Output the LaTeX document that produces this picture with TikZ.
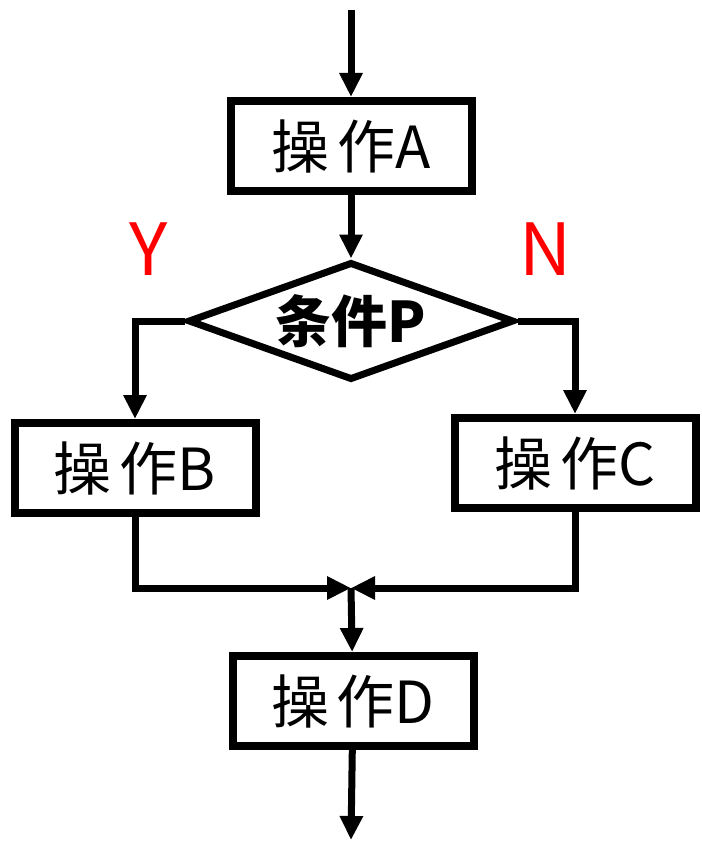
\documentclass[tikz,border=0pt]{standalone}
\usepackage{fontspec}
\usepackage{xcolor}
\usetikzlibrary{arrows.meta,shapes.geometric}
\newfontfamily\cjk{Noto Sans CJK SC}

\tikzset{
  opbox/.style={draw,line width=8pt,minimum width=241pt,minimum height=90pt,
    inner sep=0pt,font=\cjk\fontsize{58}{58}\selectfont},
  condbox/.style={draw,diamond,aspect=2.76,line width=7pt,minimum width=326pt,
    minimum height=118pt,inner sep=0pt,font=\cjk\bfseries\fontsize{56}{56}\selectfont},
  flow/.style={line width=7pt,-{Triangle[width=22pt,length=24pt]}},
  yn/.style={text=red,font=\cjk\fontsize{72}{72}\selectfont}
}

\begin{document}
\begin{tikzpicture}[x=1pt,y=-1pt]
\useasboundingbox (0,0) rectangle (701,842);

\node[opbox] (opA) at (351,146) {操\hspace{8pt}作A};
\node[condbox] (condP) at (351,321) {条件P};
\node[opbox] (opB) at (135,468) {操\hspace{8pt}作B};
\node[opbox] (opC) at (575,463) {操\hspace{8pt}作C};
\node[opbox] (opD) at (353,701) {操\hspace{8pt}作D};

\node[yn] (yes) at (149,249) {Y};
\node[yn] (no) at (546,249) {N};

\coordinate (start) at (351,10);
\coordinate (merge) at (351,588);
\coordinate (stop) at (351,840);

\draw[flow] (start) -- (opA);
\draw[flow] (opA) -- (condP);
\draw[flow] (condP.west) -| (opB.north);
\draw[flow] (condP.east) -| (opC.north);
\draw[flow] (opB.south) |- (merge);
\draw[flow] (opC.south) |- (merge);
\draw[flow] (merge) -- (opD);
\draw[flow] (opD) -- (stop);
\end{tikzpicture}
\end{document}
